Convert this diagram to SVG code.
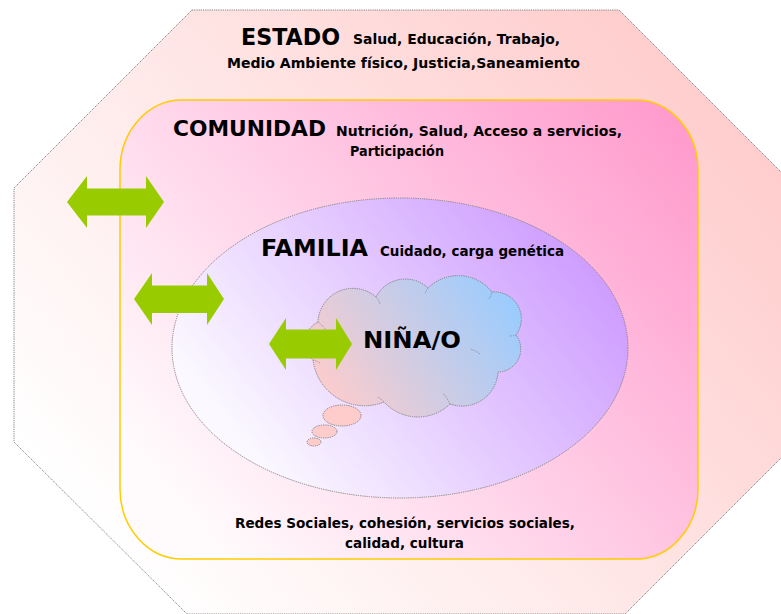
<svg xmlns="http://www.w3.org/2000/svg" width="781" height="614" viewBox="0 0 781 614">
<defs>
<linearGradient id="gOct" gradientUnits="userSpaceOnUse" x1="120" y1="560" x2="700" y2="60">
<stop offset="0" stop-color="#ffffff"/>
<stop offset="1" stop-color="#ffcccc"/>
</linearGradient>
<linearGradient id="gCom" gradientUnits="userSpaceOnUse" x1="200" y1="520" x2="690" y2="110">
<stop offset="0" stop-color="#fffafc"/>
<stop offset="1" stop-color="#ff99cc"/>
</linearGradient>
<linearGradient id="gFam" gradientUnits="userSpaceOnUse" x1="260" y1="470" x2="580" y2="220">
<stop offset="0" stop-color="#fbf9ff"/>
<stop offset="1" stop-color="#cc99ff"/>
</linearGradient>
<linearGradient id="gCloud" gradientUnits="userSpaceOnUse" x1="330" y1="410" x2="510" y2="290">
<stop offset="0" stop-color="#ffcccc"/>
<stop offset="1" stop-color="#99ccff"/>
</linearGradient>
<style>
.dot{stroke:#808080;stroke-width:1;stroke-dasharray:1.2 1}
.inner{fill:none;stroke:#808080;stroke-width:0.8;stroke-dasharray:1.2 1}
.t{font-family:"Comic Sans MS","DejaVu Sans",sans-serif;font-weight:bold;fill:#000}
.big{font-size:23px}
.sm{font-size:14px}
.arr{fill:#99cc00}
</style>
</defs>

<g id="estado">
<polygon class="dot" fill="url(#gOct)" points="192,10 619,10 797,188 797,442 625,614 187,614 14,442 14,188"/>
<text class="t big" x="241" y="45" textLength="99" lengthAdjust="spacingAndGlyphs">ESTADO</text>
<text class="t sm" x="353" y="44" textLength="207" lengthAdjust="spacingAndGlyphs">Salud, Educación, Trabajo,</text>
<text class="t sm" x="227" y="68" textLength="353" lengthAdjust="spacingAndGlyphs">Medio Ambiente físico, Justicia,Saneamiento</text>
</g>

<g id="comunidad">
<rect x="120" y="100" width="578" height="459" rx="62" ry="70" fill="url(#gCom)" stroke="#ffcc00" stroke-width="1.5"/>
<text class="t" font-size="22" x="173" y="136" textLength="153" lengthAdjust="spacingAndGlyphs">COMUNIDAD</text>
<text class="t sm" x="336" y="136" textLength="286" lengthAdjust="spacingAndGlyphs">Nutrición, Salud, Acceso a servicios,</text>
<text class="t sm" x="350" y="156" textLength="94" lengthAdjust="spacingAndGlyphs">Participación</text>
<text class="t sm" x="235" y="528" textLength="340" lengthAdjust="spacingAndGlyphs">Redes Sociales, cohesión, servicios sociales,</text>
<text class="t sm" x="345" y="548" textLength="119" lengthAdjust="spacingAndGlyphs">calidad, cultura</text>
</g>

<g id="familia">
<ellipse class="dot" cx="400" cy="348" rx="228" ry="150" fill="url(#gFam)"/>
<text class="t big" x="261" y="256" textLength="107" lengthAdjust="spacingAndGlyphs">FAMILIA</text>
<text class="t sm" x="380" y="256" textLength="184" lengthAdjust="spacingAndGlyphs">Cuidado, carga genética</text>
</g>

<g id="nina">
<path class="dot" fill="url(#gCloud)" d="M318,322 A35,35 0 0 1 376,297 A33,33 0 0 1 428,288 A43,43 0 0 1 492,292 A27,27 0 0 1 516,335 A23,23 0 0 1 498,372 A36,36 0 0 1 450,404 A46,46 0 0 1 384,402 A52,52 0 0 1 313,360 A23,23 0 0 1 318,322 Z"/>
<path class="inner" d="M318,322 Q322,325 326,330"/>
<path class="inner" d="M376,297 Q379,300 380,304"/>
<path class="inner" d="M428,288 Q426,291 425,294"/>
<path class="inner" d="M492,292 Q491,296 489,299"/>
<path class="inner" d="M516,335 Q513,336 509,336"/>
<path class="inner" d="M480,354 Q475,350 470,349"/>
<path class="inner" d="M450,404 Q447,398 443,393"/>
<path class="inner" d="M384,402 Q381,399 378,397"/>
<path class="inner" d="M313,360 Q317,361 320,363"/>
<ellipse class="dot" cx="342" cy="415.5" rx="19" ry="10.5" fill="#ffcccc"/>
<ellipse class="dot" cx="324.5" cy="431.5" rx="12.5" ry="6.5" fill="#ffcccc"/>
<ellipse class="dot" cx="314" cy="442" rx="7" ry="4" fill="#ffcccc"/>
<text class="t big" x="363" y="348" textLength="98" lengthAdjust="spacingAndGlyphs">NIÑA/O</text>
</g>

<g id="connectors">
<polygon class="arr" points="67,202 87,176 87,188.5 146,188.5 146,176 164,202 146,228 146,215.5 87,215.5 87,228"/>
<polygon class="arr" points="134,299 152,273 152,285.5 207,285.5 207,273 224,299 207,325 207,313 152,313 152,325"/>
<polygon class="arr" points="269,344 286,318 286,329.5 336,329.5 336,318 352,344 336,370 336,358.5 286,358.5 286,370"/>
</g>
</svg>
